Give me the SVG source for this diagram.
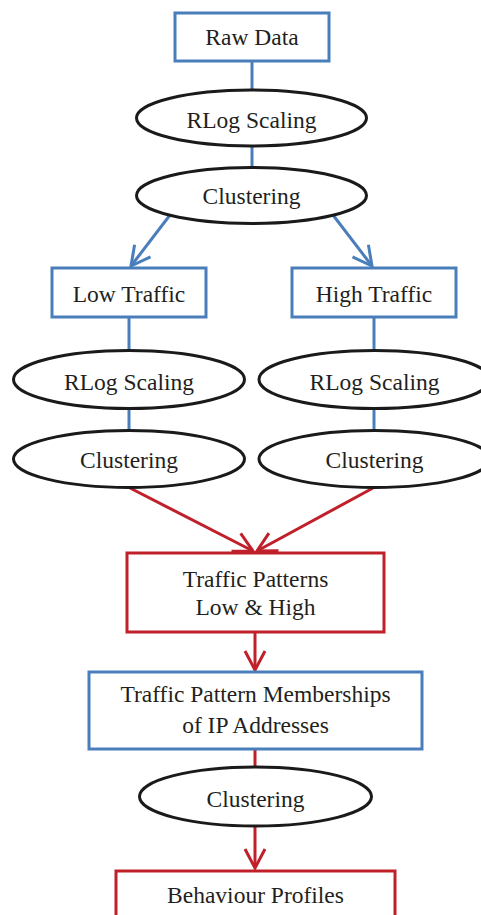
<svg xmlns="http://www.w3.org/2000/svg" width="481" height="915" viewBox="0 0 481 915">
<defs>
<style>
.t{font-family:"Liberation Serif","Times New Roman",serif;font-size:23.5px;fill:#231f20;text-anchor:middle}
.bb{fill:#fff;stroke:#4a7ebb;stroke-width:3}
.rb{fill:#fff;stroke:#c0202a;stroke-width:3}
.el{fill:#fff;stroke:#1a1a1a;stroke-width:3}
.bl{stroke:#4a7ebb;stroke-width:3;fill:none}
.rl{stroke:#c0202a;stroke-width:3;fill:none}
</style>
<marker id="ab" markerUnits="userSpaceOnUse" markerWidth="30" markerHeight="30" viewBox="-25 -15 30 30" refX="0" refY="0" orient="auto">
<path d="M-19,-10 L0,0 L-19,10" fill="none" stroke="#4a7ebb" stroke-width="3"/>
</marker>
<marker id="ar" markerUnits="userSpaceOnUse" markerWidth="30" markerHeight="30" viewBox="-25 -15 30 30" refX="0" refY="0" orient="auto">
<path d="M-19,-10 L0,0 L-19,10" fill="none" stroke="#c0202a" stroke-width="3"/>
</marker>
</defs>
<rect width="481" height="915" fill="#fff"/>
<g id="connectors">
<line class="bl" x1="252" y1="61" x2="252" y2="90"/>
<line class="bl" x1="252" y1="146" x2="252" y2="168"/>
<line class="bl" x1="170" y1="215" x2="131" y2="266" marker-end="url(#ab)"/>
<line class="bl" x1="333" y1="215" x2="372" y2="266" marker-end="url(#ab)"/>
<line class="bl" x1="129" y1="317" x2="129" y2="351"/>
<line class="bl" x1="129" y1="408" x2="129" y2="431"/>
<line class="bl" x1="374" y1="317" x2="374" y2="351"/>
<line class="bl" x1="374" y1="408" x2="374" y2="431"/>
<line class="rl" x1="130" y1="488" x2="253" y2="551" marker-end="url(#ar)"/>
<line class="rl" x1="373" y1="488" x2="257" y2="551" marker-end="url(#ar)"/>
<line class="rl" x1="255" y1="632" x2="255" y2="670" marker-end="url(#ar)"/>
<line class="rl" x1="255" y1="749" x2="255" y2="768"/>
<line class="rl" x1="255" y1="825" x2="255" y2="868" marker-end="url(#ar)"/>
</g>
<g id="raw-data">
<rect class="bb" x="175" y="13" width="154" height="48"/>
<text class="t" x="252" y="45">Raw Data</text>
</g>
<g id="rlog-1">
<ellipse class="el" cx="251.5" cy="118" rx="115" ry="28"/>
<text class="t" x="251.5" y="128">RLog Scaling</text>
</g>
<g id="clustering-1">
<ellipse class="el" cx="251.5" cy="195.5" rx="115" ry="28"/>
<text class="t" x="251.5" y="203.5">Clustering</text>
</g>
<g id="low-traffic">
<rect class="bb" x="52" y="268" width="154" height="49"/>
<text class="t" x="129" y="302">Low Traffic</text>
</g>
<g id="high-traffic">
<rect class="bb" x="292" y="268" width="164" height="49"/>
<text class="t" x="374" y="302">High Traffic</text>
</g>
<g id="rlog-low">
<ellipse class="el" cx="129" cy="379.5" rx="115.5" ry="29"/>
<text class="t" x="129" y="390">RLog Scaling</text>
</g>
<g id="rlog-high">
<ellipse class="el" cx="374.5" cy="379.5" rx="115.5" ry="29"/>
<text class="t" x="374.5" y="390">RLog Scaling</text>
</g>
<g id="clustering-low">
<ellipse class="el" cx="129" cy="459" rx="115.5" ry="28.5"/>
<text class="t" x="129" y="468">Clustering</text>
</g>
<g id="clustering-high">
<ellipse class="el" cx="374.5" cy="459" rx="115.5" ry="28.5"/>
<text class="t" x="374.5" y="468">Clustering</text>
</g>
<g id="traffic-patterns">
<rect class="rb" x="127" y="553" width="257" height="79"/>
<text class="t" x="255.5" y="587">Traffic Patterns</text>
<text class="t" x="255.5" y="615">Low &amp; High</text>
</g>
<g id="memberships">
<rect class="bb" x="89" y="672" width="333" height="77"/>
<text class="t" x="255.5" y="702">Traffic Pattern Memberships</text>
<text class="t" x="255.5" y="733">of IP Addresses</text>
</g>
<g id="clustering-3">
<ellipse class="el" cx="255.5" cy="796.5" rx="116" ry="29.5"/>
<text class="t" x="255.5" y="807">Clustering</text>
</g>
<g id="behaviour-profiles">
<rect class="rb" x="116" y="871" width="279" height="60"/>
<text class="t" x="255.5" y="903">Behaviour Profiles</text>
</g>
</svg>
